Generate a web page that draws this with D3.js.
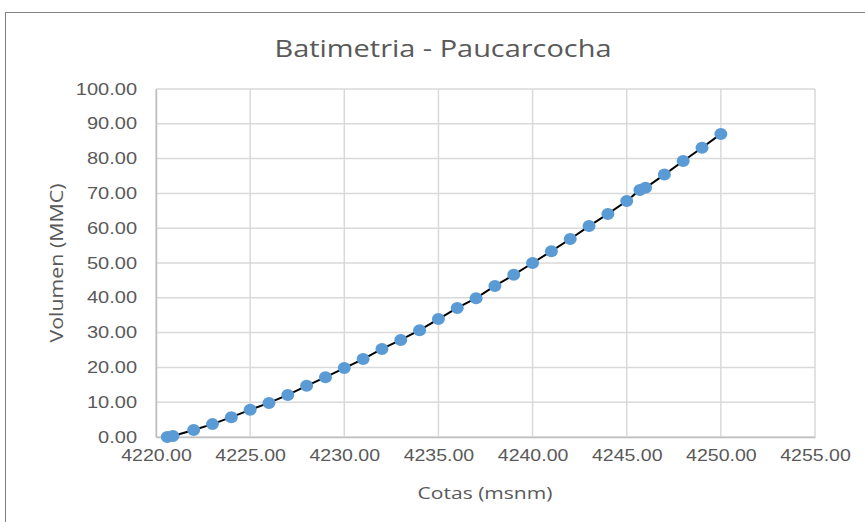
<!DOCTYPE html>
<html>
<head>
<meta charset="utf-8">
<script src="https://cdn.jsdelivr.net/npm/d3@7"></script>
<style>
  body { margin: 0; background: #fff; }
  svg { display: block; font-family: "Open Sans", "Liberation Sans", sans-serif; }
</style>
</head>
<body>
<div id="chart"></div>
<script>
// Data
const cotas = [4220.6, 4220.9, 4222, 4223, 4224, 4225, 4226, 4227, 4228, 4229, 4230,
  4231, 4232, 4233, 4234, 4235, 4236, 4237, 4238, 4239, 4240, 4241, 4242, 4243, 4244,
  4245, 4245.7, 4246, 4247, 4248, 4249, 4250];
const volumen = [0.0, 0.3, 2.0, 3.7, 5.7, 7.8, 9.8, 12.1, 14.7, 17.2, 19.8,
  22.4, 25.3, 27.9, 30.7, 33.9, 37.1, 39.9, 43.4, 46.6, 50.0, 53.4, 56.9, 60.6, 64.1,
  67.8, 71.0, 71.6, 75.4, 79.3, 83.1, 87.1];
const xTicks = [4220, 4225, 4230, 4235, 4240, 4245, 4250, 4255];
const yTicks = [0, 10, 20, 30, 40, 50, 60, 70, 80, 90, 100];

const width = 865, height = 522;
const margin = { left: 156, right: 50, top: 89, bottom: 85 };

// the reference text is drawn a bit wide, stretch it to match
function stretch(sel, k) {
  sel.each(function() {
    const len = this.getComputedTextLength();
    d3.select(this).attr('textLength', len * k).attr('lengthAdjust', 'spacingAndGlyphs');
  });
}

const svg = d3.select('#chart').append('svg')
  .attr('width', width)
  .attr('height', height);

// chart border
svg.append('rect')
  .attr('x', 5.5).attr('y', 12.5)
  .attr('width', 870).attr('height', 520)
  .attr('fill', 'none')
  .attr('stroke', '#7f7f7f')
  .attr('stroke-width', 1);

const x = d3.scaleLinear().domain([4220, 4255]).range([margin.left, width - margin.right]);
const y = d3.scaleLinear().domain([0, 100]).range([height - margin.bottom, margin.top]);

// gridlines
svg.append('g').selectAll('line')
  .data(yTicks)
  .join('line')
  .attr('x1', x(4220)).attr('x2', x(4255))
  .attr('y1', d => y(d)).attr('y2', d => y(d))
  .attr('stroke', '#d9d9d9').attr('stroke-width', 1.5);

svg.append('g').selectAll('line')
  .data(xTicks)
  .join('line')
  .attr('x1', d => x(d)).attr('x2', d => x(d))
  .attr('y1', y(0)).attr('y2', y(100))
  .attr('stroke', '#d9d9d9').attr('stroke-width', 1.5);

// axes
const xAxis = svg.append('g')
  .attr('transform', `translate(0,${y(0)})`)
  .call(d3.axisBottom(x).tickValues(xTicks).tickFormat(d3.format('.2f')).tickSize(0).tickPadding(13));
const yAxis = svg.append('g')
  .attr('transform', `translate(${x(4220)},0)`)
  .call(d3.axisLeft(y).tickValues(yTicks).tickFormat(d3.format('.2f')).tickSize(0).tickPadding(19));

[xAxis, yAxis].forEach(a => {
  a.select('.domain').attr('stroke', '#bfbfbf').attr('stroke-width', 1.5);
  a.selectAll('text').attr('fill', '#595959').attr('font-size', '16px');
});
stretch(xAxis.selectAll('text'), 1.22);
stretch(yAxis.selectAll('text'), 1.25);

// line
const pts = cotas.map((c, i) => [c, volumen[i]]);
svg.append('path')
  .datum(pts)
  .attr('fill', 'none')
  .attr('stroke', '#000')
  .attr('stroke-width', 2)
  .attr('d', d3.line().x(d => x(d[0])).y(d => y(d[1])));

// markers
svg.append('g').selectAll('ellipse')
  .data(pts)
  .join('ellipse')
  .attr('cx', d => x(d[0]))
  .attr('cy', d => y(d[1]))
  .attr('rx', 6.5).attr('ry', 6)
  .attr('fill', '#5b9bd5');

// title
svg.append('text')
  .attr('x', 443).attr('y', 57)
  .attr('text-anchor', 'middle')
  .attr('fill', '#595959')
  .attr('font-size', '24px')
  .attr('textLength', 337)
  .attr('lengthAdjust', 'spacingAndGlyphs')
  .text('Batimetria - Paucarcocha');

// axis titles
svg.append('text')
  .attr('x', 485).attr('y', 499)
  .attr('text-anchor', 'middle')
  .attr('fill', '#595959')
  .attr('font-size', '17px')
  .attr('textLength', 135)
  .attr('lengthAdjust', 'spacingAndGlyphs')
  .text('Cotas (msnm)');

svg.append('text')
  .attr('transform', 'translate(63,263) rotate(-90)')
  .attr('text-anchor', 'middle')
  .attr('fill', '#595959')
  .attr('font-size', '18px')
  .attr('textLength', 159)
  .attr('lengthAdjust', 'spacingAndGlyphs')
  .text('Volumen (MMC)');
</script>
</body>
</html>
